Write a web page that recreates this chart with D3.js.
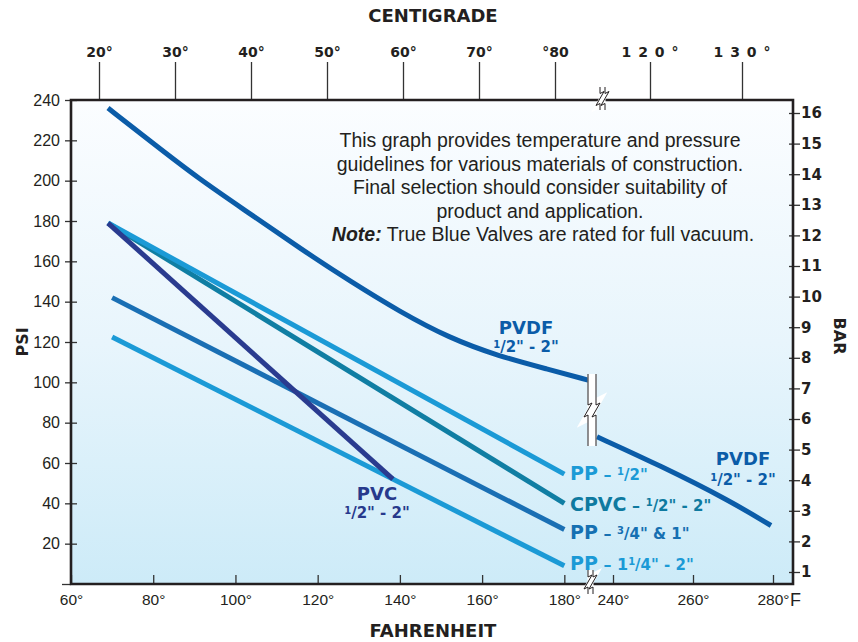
<!DOCTYPE html>
<html>
<head>
<meta charset="utf-8">
<script src="https://cdn.jsdelivr.net/npm/d3@7"></script>
<style>
  body { margin: 0; background: #fff; }
  text { font-family: "Liberation Sans", Arial, sans-serif; }
  .bold { font-family: "DejaVu Sans", sans-serif; font-weight: bold; }
</style>
</head>
<body>
<svg id="chart" width="858" height="642"></svg>
<script>
// values
var fahrenheitTicks = [60, 80, 100, 120, 140, 160, 180, 240, 260, 280];
var centigradeTicks = [20, 30, 40, 50, 60, 70, 80, 120, 130];
var centigradeLabels = ["20°", "30°", "40°", "50°", "60°", "70°", "°80", "120°", "130°"];
var psiTicks = [0, 20, 40, 60, 80, 100, 120, 140, 160, 180, 200, 220, 240];
var barTicks = [1, 2, 3, 4, 5, 6, 7, 8, 9, 10, 11, 12, 13, 14, 15, 16];

// PVDF, both sides of the axis break
var pvdfLowF = [69, 79, 91, 104, 116, 128, 140, 152, 164, 176, 186];
var pvdfLowPsi = [236, 220, 201, 183, 166, 150, 135, 122, 113, 106.5, 101];
var pvdfHighF = [236, 252, 269, 279.5];
var pvdfHighPsi = [73, 58.5, 41.5, 29];

var pp12F = [69, 180], pp12Psi = [179, 54.5];
var cpvcF = [69, 180], cpvcPsi = [179, 40];
var pp34F = [70, 180], pp34Psi = [142, 27];
var pp114F = [70, 180], pp114Psi = [122.5, 9];
var pvcF = [69, 138.3], pvcPsi = [179, 52];

var noteLines = [
  "This graph provides temperature and pressure",
  "guidelines for various materials of construction.",
  "Final selection should consider suitability of",
  "product and application."
];

var svg = d3.select("#chart");
var plotL = 71, plotR = 793, plotT = 100, plotB = 584;

var x = d3.scaleLinear().domain([60, 186, 234, 285]).range([plotL, 589, 589, plotR]);
var y = d3.scaleLinear().domain([0, 240]).range([plotB, plotT]);
var xC = d3.scaleLinear().domain([20, 80, 120, 130]).range([99, 555, 650, 742]);
var yBar = d3.scaleLinear().domain([1, 16]).range([572, 113]);

// background gradient
var grad = svg.append("defs").append("linearGradient")
  .attr("id", "bg").attr("x1", 0).attr("y1", 0).attr("x2", 0).attr("y2", 1);
grad.append("stop").attr("offset", "0%").attr("stop-color", "#fbfdff");
grad.append("stop").attr("offset", "50%").attr("stop-color", "#e8f5fc");
grad.append("stop").attr("offset", "100%").attr("stop-color", "#cdebf8");

svg.append("rect").attr("x", plotL).attr("y", plotT)
  .attr("width", plotR - plotL).attr("height", plotB - plotT)
  .attr("fill", "url(#bg)");

// axes
var gBottom = svg.append("g").attr("transform", "translate(0," + plotB + ")")
  .call(d3.axisBottom(x).tickValues(fahrenheitTicks).tickSize(-9).tickPadding(10)
    .tickFormat(function(d) { return d + "°"; }));
var gLeft = svg.append("g").attr("transform", "translate(" + plotL + ",0)")
  .call(d3.axisLeft(y).tickValues(psiTicks).tickSize(6).tickPadding(5)
    .tickFormat(function(d) { return d === 0 ? "" : d; }));
gLeft.selectAll(".tick line").attr("x1", 6);
gLeft.selectAll(".tick").filter(function(d) { return d === 0; }).select("line").attr("x1", 0).attr("x2", -9);
var gRight = svg.append("g").attr("transform", "translate(" + plotR + ",0)")
  .call(d3.axisRight(yBar).tickValues(barTicks).tickSize(7).tickPadding(1));
gRight.selectAll(".tick line").attr("x1", -4);
var gTop = svg.append("g").attr("transform", "translate(0," + plotT + ")")
  .call(d3.axisTop(xC).tickValues(centigradeTicks).tickSize(38).tickPadding(5)
    .tickFormat(function(d, i) { return centigradeLabels[i]; }));

[gBottom, gLeft, gRight, gTop].forEach(function(g) {
  g.select(".domain").remove();
  g.selectAll(".tick line").attr("stroke", "#333").attr("stroke-width", 1.3);
  g.selectAll("text").attr("fill", "#231f20").attr("font-family", null);
});
gBottom.selectAll("text").style("font-size", "15.5px");
gLeft.selectAll("text").style("font-size", "16px");
gRight.selectAll("text").attr("class", "bold").style("font-size", "15px");
gTop.selectAll("text").attr("class", "bold").style("font-size", "14px");
gTop.selectAll("text").filter(function(d) { return d >= 120; })
  .attr("letter-spacing", "7px").attr("dx", "3");

svg.append("text").attr("x", 790).attr("y", plotB + 22).text("F")
  .style("font-size", "18px").attr("fill", "#231f20");

// frame
svg.append("path")
  .attr("d", "M" + plotL + "," + plotT + "H" + plotR + "V" + plotB + "H" + plotL + "Z")
  .attr("fill", "none").attr("stroke", "#231f20").attr("stroke-width", 2.6);

// axis titles
svg.append("text").attr("class", "bold").attr("x", 433).attr("y", 22)
  .attr("text-anchor", "middle").style("font-size", "18px").attr("fill", "#231f20").text("CENTIGRADE");
svg.append("text").attr("class", "bold").attr("x", 433).attr("y", 637)
  .attr("text-anchor", "middle").style("font-size", "18px").attr("fill", "#231f20").text("FAHRENHEIT");
svg.append("text").attr("class", "bold").attr("transform", "translate(28,342) rotate(-90)")
  .attr("text-anchor", "middle").style("font-size", "16px").attr("fill", "#231f20").text("PSI");
svg.append("text").attr("class", "bold").attr("transform", "translate(834,336) rotate(90)")
  .attr("text-anchor", "middle").style("font-size", "16px").attr("fill", "#231f20").text("BAR");

// series
var series = [
  { f: pp114F, p: pp114Psi, color: "#1b9ad6" },
  { f: pp34F, p: pp34Psi, color: "#1a6fb4" },
  { f: cpvcF, p: cpvcPsi, color: "#107ea3" },
  { f: pp12F, p: pp12Psi, color: "#1b9ad6" },
  { f: pvcF, p: pvcPsi, color: "#2a3b8f" },
  { f: pvdfLowF, p: pvdfLowPsi, color: "#0b5ca8" },
  { f: pvdfHighF, p: pvdfHighPsi, color: "#0b5ca8" }
];
var line = d3.line()
  .x(function(d) { return x(d[0]); })
  .y(function(d) { return y(d[1]); })
  .curve(d3.curveBasis);
series.forEach(function(s) {
  svg.append("path")
    .attr("d", line(d3.zip(s.f, s.p)))
    .attr("fill", "none").attr("stroke", s.color).attr("stroke-width", 5);
});

// break marks
function breakMark(x0, y0, y1, gap) {
  var mid = (y0 + y1) / 2;
  var edge = function(dx) {
    var xx = x0 + dx;
    return "M" + xx + "," + y0 + "V" + (mid - 5) + "L" + (xx + 4) + "," + (mid - 7) +
      "L" + (xx - 4) + "," + (mid + 7) + "L" + xx + "," + (mid + 5) + "V" + y1;
  };
  svg.append("path").attr("d", edge(0)).attr("transform", "translate(" + (gap / 2) + ",0)")
    .attr("fill", "none").attr("stroke", "#fff").attr("stroke-width", gap + 1);
  svg.append("path").attr("d", edge(0) + edge(gap))
    .attr("fill", "none").attr("stroke", "#231f20").attr("stroke-width", 1);
}
breakMark(588, 374, 446, 8);
breakMark(588, 570, 594, 5);
breakMark(600, 87, 110, 5);

// labels
function richText(px, py, anchor, color, parts) {
  var t = svg.append("text").attr("class", "bold").attr("x", px).attr("y", py)
    .attr("text-anchor", anchor).attr("fill", color);
  parts.forEach(function(p) {
    t.append("tspan").text(p[0]).style("font-size", p[1] + "px").attr("dy", p[2] || 0);
  });
}
var half = [["1", 10, -4], ["/2\" - 2\"", 15, 4]];
richText(526, 334, "middle", "#0b5ca8", [["PVDF", 18]]);
richText(526, 352, "middle", "#0b5ca8", half);
richText(743, 465, "middle", "#0b5ca8", [["PVDF", 18]]);
richText(743, 485, "middle", "#0b5ca8", half);
richText(377, 500, "middle", "#27398c", [["PVC", 18]]);
richText(377, 518, "middle", "#27398c", half);

richText(570, 480, "start", "#1b9ad6", [["PP", 19], [" – ", 16], ["1", 10, -5], ["/2\"", 15, 5]]);
richText(570, 511, "start", "#0e7aa0", [["CPVC", 19], [" – ", 16], ["1", 10, -5], ["/2\" - 2\"", 15, 5]]);
richText(570, 539, "start", "#1670b2", [["PP", 19], [" – ", 16], ["3", 10, -5], ["/4\" & 1\"", 15, 5]]);
richText(570, 570, "start", "#1b9ad6", [["PP", 19], [" – 1", 16], ["1", 10, -5], ["/4\" - 2\"", 15, 5]]);

// note
var note = svg.append("g").attr("fill", "#231f20").style("font-size", "19.5px");
noteLines.forEach(function(s, i) {
  note.append("text").attr("x", 540).attr("y", 147 + i * 23.6)
    .attr("text-anchor", "middle").text(s);
});
var last = note.append("text").attr("x", 543).attr("y", 147 + 4 * 23.6).attr("text-anchor", "middle");
last.append("tspan").attr("font-weight", "bold").attr("font-style", "italic").text("Note:");
last.append("tspan").text(" True Blue Valves are rated for full vacuum.");
</script>
</body>
</html>
